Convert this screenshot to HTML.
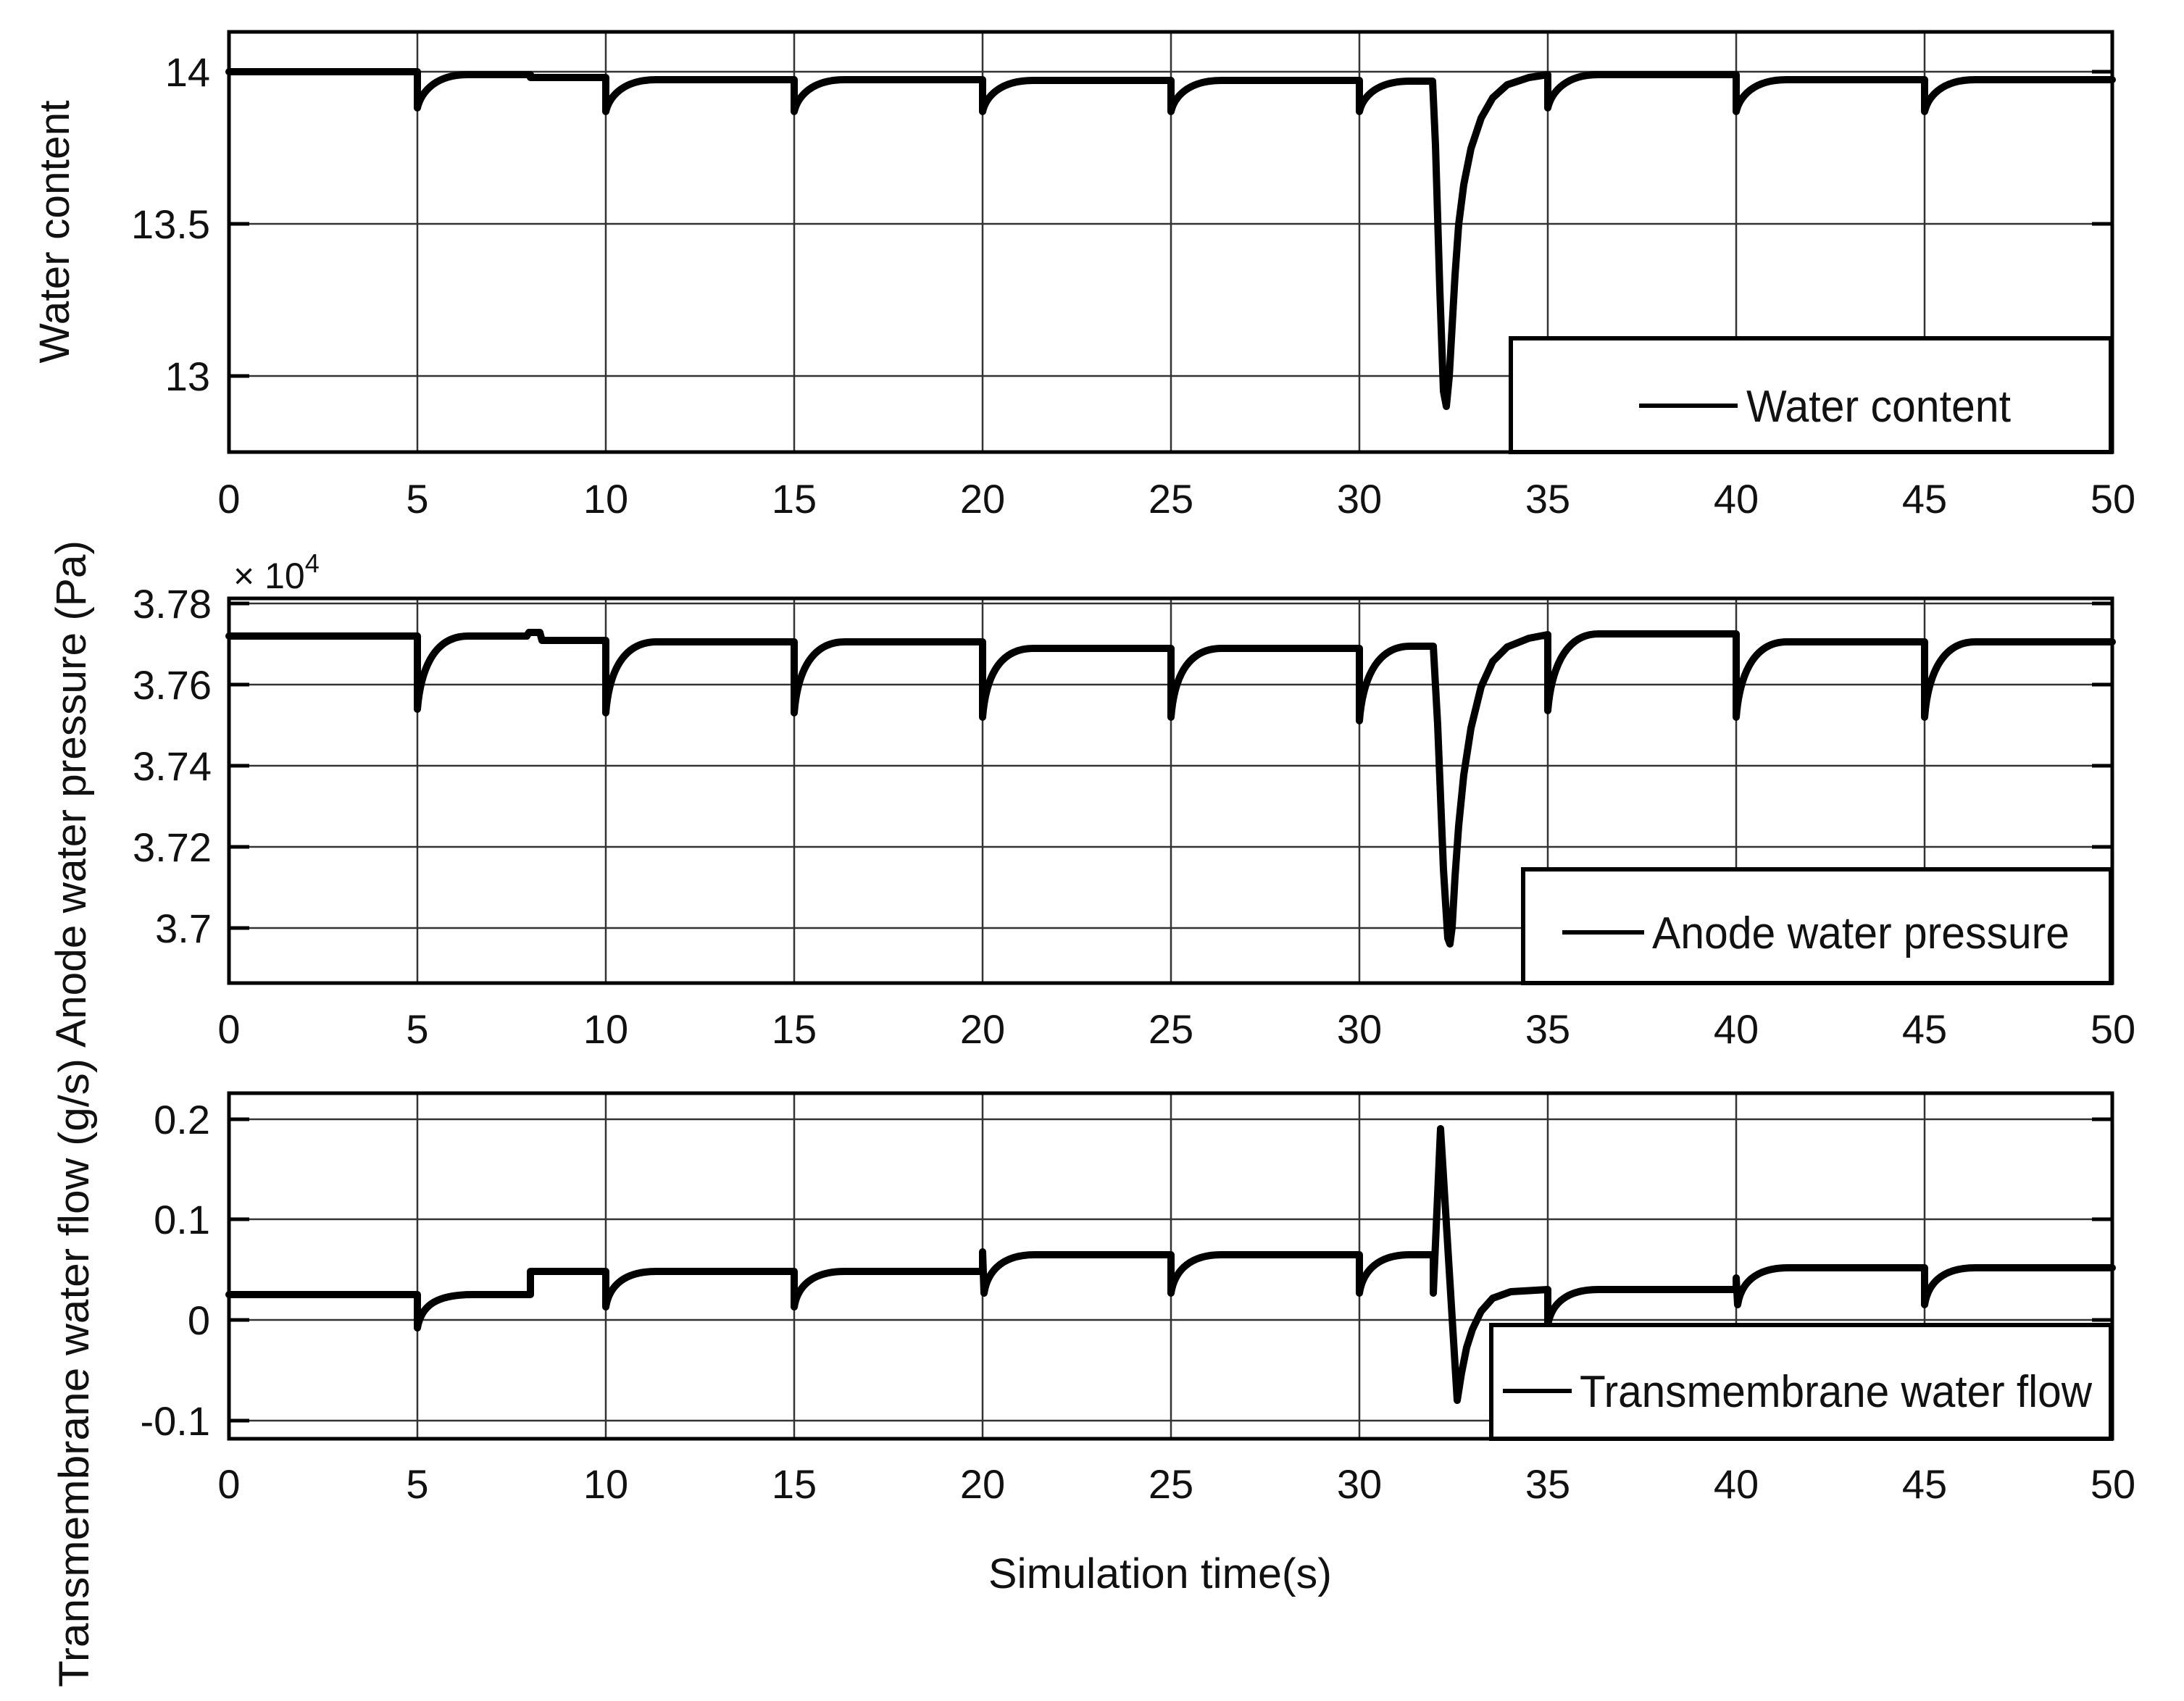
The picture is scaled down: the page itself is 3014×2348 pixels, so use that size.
<!DOCTYPE html>
<html><head><meta charset="utf-8"><style>
html,body{margin:0;padding:0;background:#fff;}
svg{display:block;}
text{font-family:"Liberation Sans",Arial,sans-serif;fill:#111;}
</style></head><body>
<svg width="3014" height="2348" viewBox="0 0 3014 2348" xmlns="http://www.w3.org/2000/svg">
<rect width="3014" height="2348" fill="#fff"/>
<g stroke="#333" stroke-width="2.5" fill="none">
<path d="M576 44V624M836 44V624M1096 44V624M1356 44V624M1616 44V624M1876 44V624M2136 44V624M2396 44V624M2656 44V624"/>
<path d="M576 826V1357M836 826V1357M1096 826V1357M1356 826V1357M1616 826V1357M1876 826V1357M2136 826V1357M2396 826V1357M2656 826V1357"/>
<path d="M576 1509V1986M836 1509V1986M1096 1509V1986M1356 1509V1986M1616 1509V1986M1876 1509V1986M2136 1509V1986M2396 1509V1986M2656 1509V1986"/>
<path d="M316 99H2915M316 309H2915M316 519H2915"/>
<path d="M316 833H2915M316 945H2915M316 1057H2915M316 1169H2915M316 1281H2915"/>
<path d="M316 1545H2915M316 1683H2915M316 1822H2915M316 1961H2915"/>
</g>
<g stroke="#000" stroke-width="5">
<path d="M316 99h28M316 309h28M316 519h28M2915 99h-28M2915 309h-28M2915 519h-28"/>
<path d="M316 833h28M316 945h28M316 1057h28M316 1169h28M316 1281h28M2915 833h-28M2915 945h-28M2915 1057h-28M2915 1169h-28M2915 1281h-28"/>
<path d="M316 1545h28M316 1683h28M316 1822h28M316 1961h28M2915 1545h-28M2915 1683h-28M2915 1822h-28M2915 1961h-28"/>
</g>
<g stroke="#000" stroke-width="10" fill="none" stroke-linejoin="round" stroke-linecap="round">
<path d="M316 99 L576 99 L576 149 C580 132 596 103 646 103 L732 103 L732 107 L836 107 L836 154 C840 137 856 110 906 110 L1096 110 L1096 154 C1100 137 1116 110 1166 110 L1356 110 L1356 154 C1360 137 1376 111 1426 111 L1616 111 L1616 154 C1620 137 1636 111 1686 111 L1876 111 L1876 154 C1880 137 1896 112 1946 112 L1977 112 L1981 200 L1987 400 L1992 540 L1996 561 L2000 520 L2004 450 L2008 380 L2013 310 L2020 255 L2030 205 L2044 163 L2060 135 L2080 117 L2110 107 L2136 103 L2136 149 C2140 132 2156 103 2206 103 L2396 103 L2396 154 C2400 137 2416 110 2466 110 L2656 110 L2656 154 C2660 137 2676 110 2726 110 L2915 110"/>
<path d="M316 878 L576 878 L576 979 C580 930 596 878 646 878 L727 878 L730 873 L745 873 L748 884 L836 884 L836 984 C840 935 856 886 906 886 L1096 886 L1096 984 C1100 935 1116 886 1166 886 L1356 886 L1356 990 C1360 940 1376 895 1426 895 L1616 895 L1616 990 C1620 940 1636 895 1686 895 L1876 895 L1876 995 C1880 945 1896 892 1946 892 L1978 892 L1984 1000 L1992 1200 L1998 1295 L2001 1303 L2004 1280 L2008 1210 L2013 1140 L2020 1070 L2030 1005 L2044 948 L2060 913 L2080 893 L2110 881 L2136 876 L2136 981 C2140 932 2156 875 2206 875 L2396 875 L2396 990 C2400 940 2416 886 2466 886 L2656 886 L2656 990 C2660 940 2676 886 2726 886 L2915 886"/>
<path d="M316 1787 L576 1787 L576 1833 C581 1805 598 1787 652 1787 L732 1787 L732 1755 L836 1755 L836 1804 C840 1780 856 1755 906 1755 L1096 1755 L1096 1804 C1100 1780 1116 1755 1166 1755 L1356 1755 L1356 1728 L1358 1785 C1362 1760 1378 1732 1428 1732 L1616 1732 L1616 1785 C1620 1760 1636 1732 1686 1732 L1876 1732 L1876 1785 C1880 1760 1896 1732 1946 1732 L1978 1732 L1978 1785 L1988 1558 L2011 1933 L2017 1895 L2024 1860 L2032 1835 L2044 1810 L2060 1792 L2085 1783 L2136 1780 L2136 1829 C2140 1805 2156 1780 2206 1780 L2396 1780 L2396 1764 L2398 1801 C2402 1776 2418 1750 2468 1750 L2656 1750 L2656 1801 C2660 1776 2676 1750 2726 1750 L2915 1750"/>
</g>
<g fill="none" stroke="#000" stroke-width="5">
<rect x="316" y="44" width="2599" height="580"/>
<rect x="316" y="826" width="2599" height="531"/>
<rect x="316" y="1509" width="2599" height="477"/>
</g>
<g font-size="56" text-anchor="end">
<text x="290" y="119">14</text>
<text x="290" y="329">13.5</text>
<text x="290" y="539">13</text>
<text x="292" y="853">3.78</text>
<text x="292" y="965">3.76</text>
<text x="292" y="1077">3.74</text>
<text x="292" y="1189">3.72</text>
<text x="292" y="1301">3.7</text>
<text x="290" y="1565">0.2</text>
<text x="290" y="1703">0.1</text>
<text x="290" y="1842">0</text>
<text x="290" y="1981">-0.1</text>
</g>
<text x="322" y="812" font-size="50">× 10<tspan font-size="36" dy="-22">4</tspan></text>
<g font-size="56" text-anchor="middle">
<g><text x="316" y="708">0</text><text x="576" y="708">5</text><text x="836" y="708">10</text><text x="1096" y="708">15</text><text x="1356" y="708">20</text><text x="1616" y="708">25</text><text x="1876" y="708">30</text><text x="2136" y="708">35</text><text x="2396" y="708">40</text><text x="2656" y="708">45</text><text x="2916" y="708">50</text></g>
<g><text x="316" y="1440">0</text><text x="576" y="1440">5</text><text x="836" y="1440">10</text><text x="1096" y="1440">15</text><text x="1356" y="1440">20</text><text x="1616" y="1440">25</text><text x="1876" y="1440">30</text><text x="2136" y="1440">35</text><text x="2396" y="1440">40</text><text x="2656" y="1440">45</text><text x="2916" y="1440">50</text></g>
<g><text x="316" y="2068">0</text><text x="576" y="2068">5</text><text x="836" y="2068">10</text><text x="1096" y="2068">15</text><text x="1356" y="2068">20</text><text x="1616" y="2068">25</text><text x="1876" y="2068">30</text><text x="2136" y="2068">35</text><text x="2396" y="2068">40</text><text x="2656" y="2068">45</text><text x="2916" y="2068">50</text></g>
</g>
<g font-size="58">
<text transform="translate(95,320) rotate(-90)" text-anchor="middle" textLength="363" lengthAdjust="spacingAndGlyphs">Water content</text>
<text transform="translate(118,1096) rotate(-90)" text-anchor="middle" textLength="700" lengthAdjust="spacingAndGlyphs">Anode water pressure (Pa)</text>
<text transform="translate(122,1895) rotate(-90)" text-anchor="middle" textLength="868" lengthAdjust="spacingAndGlyphs">Transmembrane water flow (g/s)</text>
<text x="1364" y="2192" textLength="474" lengthAdjust="spacingAndGlyphs">Simulation time(s)</text>
</g>
<g>
<rect x="2085" y="467" width="828" height="157" fill="#fff" stroke="#000" stroke-width="6"/>
<line x1="2262" y1="560" x2="2398" y2="560" stroke="#000" stroke-width="6"/>
<text x="2410" y="582" font-size="62" textLength="365" lengthAdjust="spacingAndGlyphs">Water content</text>
<rect x="2102" y="1200" width="811" height="157" fill="#fff" stroke="#000" stroke-width="6"/>
<line x1="2156" y1="1287" x2="2269" y2="1287" stroke="#000" stroke-width="6"/>
<text x="2280" y="1309" font-size="62" textLength="576" lengthAdjust="spacingAndGlyphs">Anode water pressure</text>
<rect x="2058" y="1829" width="855" height="157" fill="#fff" stroke="#000" stroke-width="6"/>
<line x1="2074" y1="1920" x2="2169" y2="1920" stroke="#000" stroke-width="6"/>
<text x="2180" y="1942" font-size="62" textLength="707" lengthAdjust="spacingAndGlyphs">Transmembrane water flow</text>
</g>
</svg>
</body></html>
